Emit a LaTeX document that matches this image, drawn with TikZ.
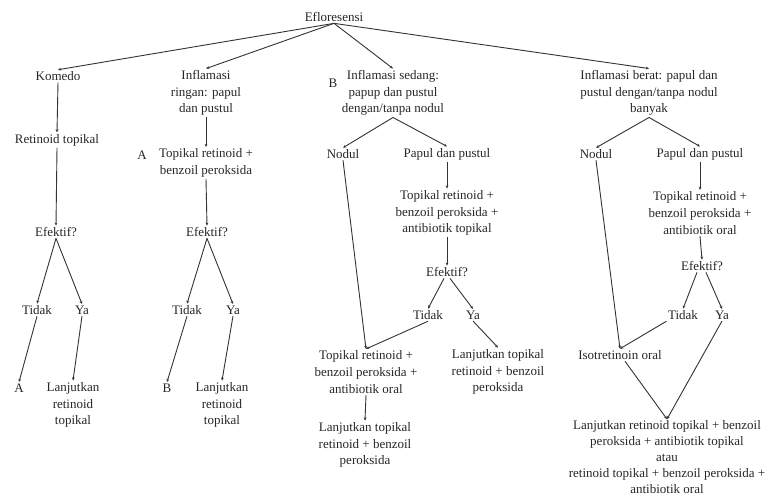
\documentclass[tikz,border=0pt]{standalone}
\usepackage{fontspec}
\setmainfont{Liberation Serif}
\usetikzlibrary{arrows.meta}
\begin{document}
\begin{tikzpicture}[x=1pt,y=-1pt,
  txt/.style={align=center, inner sep=1.5pt, font=\fontsize{13}{16.8}\selectfont, text=black!85},
  arr/.style={draw=black!80, line width=0.9pt, -{Stealth[length=3.2pt,width=2.8pt]}}]
\useasboundingbox (0,0) rectangle (766,499);
% level 0/1
\node[txt] (eflo) at (334,17) {Efloresensi};
\node[txt] (komedo) at (58,76) {Komedo};
\node[txt] (ringan) at (206,93) {Inflamasi\\ringan: papul\\dan pustul};
\node[txt] (sedang) at (393,93) {Inflamasi sedang:\\papup dan pustul\\dengan/tanpa nodul};
\node[txt] (labB) at (333,83) {B};
\node[txt] (berat) at (649,93) {Inflamasi berat: papul dan\\pustul dengan/tanpa nodul\\banyak};
% column 1
\node[txt] (rt1) at (57,140) {Retinoid topikal};
\node[txt] (ef1) at (56,232) {Efektif?};
\node[txt] (tidak1) at (37,310) {Tidak};
\node[txt] (ya1) at (82,310) {Ya};
\node[txt] (a1) at (19,388) {A};
\node[txt] (lanj1) at (73,405) {Lanjutkan\\retinoid\\topikal};
% column 2
\node[txt] (tb2) at (206,163) {Topikal retinoid +\\benzoil peroksida};
\node[txt] (labA) at (142,155) {A};
\node[txt] (ef2) at (207,232) {Efektif?};
\node[txt] (tidak2) at (187,310) {Tidak};
\node[txt] (ya2) at (233,310) {Ya};
\node[txt] (b2) at (167,388) {B};
\node[txt] (lanj2) at (222,405) {Lanjutkan\\retinoid\\topikal};
% column 3
\node[txt] (nodul3) at (343,154) {Nodul};
\node[txt] (papul3) at (447,154) {Papul dan pustul};
\node[txt] (trt3) at (447,213) {Topikal retinoid +\\benzoil peroksida +\\antibiotik topikal};
\node[txt] (ef3) at (447,272) {Efektif?};
\node[txt] (tidak3) at (428,315) {Tidak};
\node[txt] (ya3) at (473,315) {Ya};
\node[txt] (tro3) at (366,372) {Topikal retinoid +\\benzoil peroksida +\\antibiotik oral};
\node[txt] (lt3) at (498,372) {Lanjutkan topikal\\retinoid + benzoil\\peroksida};
\node[txt] (lt3b) at (365,445) {Lanjutkan topikal\\retinoid + benzoil\\peroksida};
% column 4
\node[txt] (nodul4) at (596,154) {Nodul};
\node[txt] (papul4) at (700,154) {Papul dan pustul};
\node[txt] (tro4) at (700,213) {Topikal retinoid +\\benzoil peroksida +\\antibiotik oral};
\node[txt] (ef4) at (702,266) {Efektif?};
\node[txt] (tidak4) at (683,315) {Tidak};
\node[txt] (ya4) at (722,315) {Ya};
\node[txt] (iso) at (620,355) {Isotretinoin oral};
\node[txt, font=\fontsize{13}{15.8}\selectfont] (lr4) at (667,457) {Lanjutkan retinoid topikal + benzoil\\peroksida + antibiotik topikal\\atau\\retinoid topikal + benzoil peroksida +\\antibiotik oral};
% connectors level 1
\draw[arr] (eflo.south) -- (komedo.north);
\draw[arr] (eflo.south) -- (ringan.north);
\draw[arr] (eflo.south) -- (sedang.north);
\draw[arr] (eflo.south) -- (berat.north);
% column 1
\draw[arr] (komedo.south) -- (rt1.north);
\draw[arr] (rt1.south) -- (ef1.north);
\draw[arr] (ef1.south) -- (tidak1.north);
\draw[arr] (ef1.south) -- (ya1.north);
\draw[arr] (tidak1.south) -- (a1.north);
\draw[arr] (ya1.south) -- (lanj1.north);
% column 2
\draw[arr] (ringan.south) -- (tb2.north);
\draw[arr] (tb2.south) -- (ef2.north);
\draw[arr] (ef2.south) -- (tidak2.north);
\draw[arr] (ef2.south) -- (ya2.north);
\draw[arr] (tidak2.south) -- (b2.north);
\draw[arr] (ya2.south) -- (lanj2.north);
% column 3
\draw[arr] (sedang.south) -- (nodul3.north);
\draw[arr] (sedang.south) -- (papul3.north);
\draw[arr] (papul3.south) -- (trt3.north);
\draw[arr] (trt3.south) -- (ef3.north);
\draw[arr] ([xshift=-3pt]ef3.south) -- (tidak3.north);
\draw[arr] ([xshift=3pt]ef3.south) -- (ya3.north);
\draw[arr] (nodul3.south) -- (tro3.north);
\draw[arr] (tidak3.south) -- (tro3.north);
\draw[arr] (ya3.south) -- (lt3.north);
\draw[arr] (tro3.south) -- (lt3b.north);
% column 4
\draw[arr] (berat.south) -- (nodul4.north);
\draw[arr] (berat.south) -- (papul4.north);
\draw[arr] (papul4.south) -- (tro4.north);
\draw[arr] (tro4.south) -- (ef4.north);
\draw[arr] ([xshift=-5pt]ef4.south) -- (tidak4.north);
\draw[arr] ([xshift=4pt]ef4.south) -- (ya4.north);
\draw[arr] (nodul4.south) -- (iso.north);
\draw[arr] (tidak4.south west) -- (iso.north);
\draw[arr] ([xshift=5pt]iso.south) -- (lr4.north);
\draw[arr] (ya4.south) -- (lr4.north);
\end{tikzpicture}
\end{document}
